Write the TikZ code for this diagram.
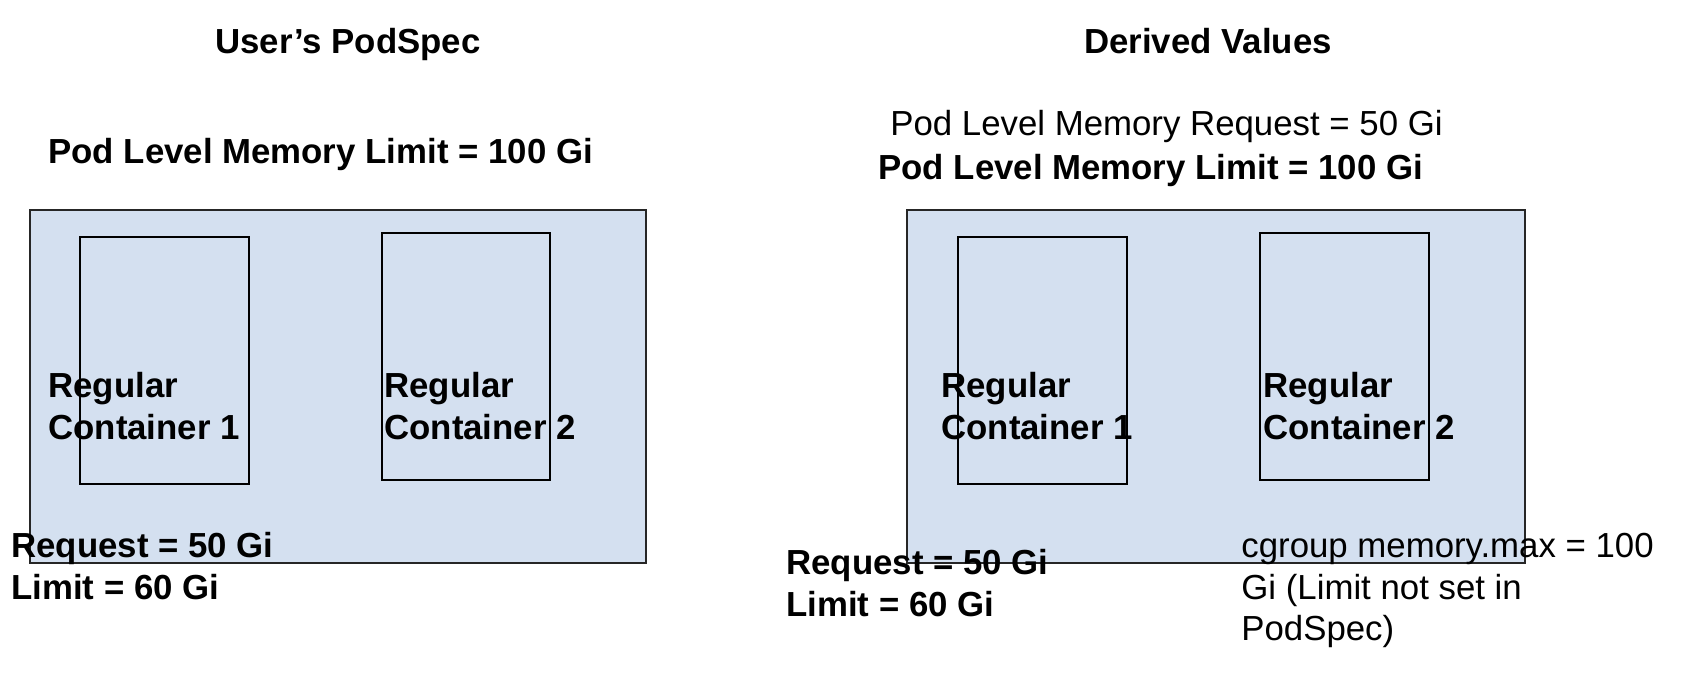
\documentclass[tikz,border=0pt]{standalone}
\usepackage{fontspec}
\setmainfont{Liberation Sans}
\usetikzlibrary{positioning}

\definecolor{podblue}{RGB}{212,224,240}
\tikzset{
  pod/.style={draw=black!85, fill=podblue, line width=0.6pt},
  ctr/.style={draw=black, line width=0.75pt},
  txt/.style={inner sep=0pt, anchor=north west, align=left, font=\fontsize{17.4}{20.7}\selectfont},
  btxt/.style={txt, font=\fontsize{17.4}{20.7}\selectfont\bfseries},
}

\begin{document}
\begin{tikzpicture}[x=0.5pt, y=-0.5pt]
\useasboundingbox (0,0) rectangle (1698,676);

\coordinate (P00) at (30,210);
\coordinate (P10) at (646,563);
\coordinate (P01) at (30+877,210);
\coordinate (P11) at (646+879,563);

\coordinate (A00) at (80,237);
\coordinate (A10) at (249,484);
\coordinate (B00) at (382,233);
\coordinate (B10) at (550,480);
\coordinate (A01) at (80+878,237);
\coordinate (A11) at (249+878,484);
\coordinate (B01) at (382+878,233);
\coordinate (B11) at (550+879,480);

\draw[pod] (P00) rectangle (P10);
\draw[ctr] (A00) rectangle (A10);
\draw[ctr] (B00) rectangle (B10);

\draw[pod] (P01) rectangle (P11);
\draw[ctr] (A01) rectangle (A11);
\draw[ctr] (B01) rectangle (B11);

\node[btxt, anchor=north] (titleL) at (348,28) {User’s PodSpec};
\node[btxt, anchor=north] (titleR) at (1208,28) {Derived Values};

\node[btxt] (podlimL) at (48,138) {Pod Level Memory Limit = 100 Gi};
\node[txt] (podreqR) at (890,110) {Pod Level Memory Request = 50 Gi};
\node[btxt] (podlimR) at (878,154) {Pod Level Memory Limit = 100 Gi};

\node[btxt] (regAL) at (48,372) {Regular\\Container 1};
\node[btxt] (regBL) at (384,372) {Regular\\Container 2};
\node[btxt] (regAR) at (941,372) {Regular\\Container 1};
\node[btxt] (regBR) at (1263,372) {Regular\\Container 2};

\node[btxt] (resL) at (11,532) {Request = 50 Gi\\Limit = 60 Gi};
\node[btxt] (resR) at (786,549) {Request = 50 Gi\\Limit = 60 Gi};
\node[txt] (cgroupR) at (1241,533) {cgroup memory.max = 100\\Gi (Limit not set in\\PodSpec)};
\end{tikzpicture}
\end{document}
